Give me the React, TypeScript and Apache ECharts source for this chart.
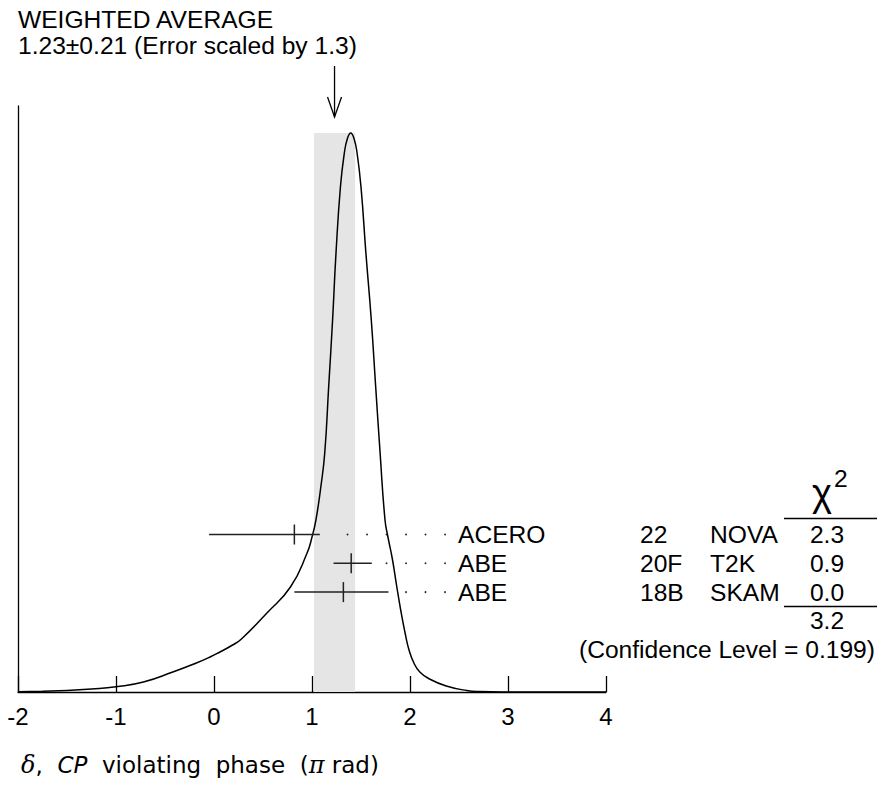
import React, { useEffect, useRef } from "react";
import * as echarts from "echarts";

// ---- data ----
const curveX = [-2.0, -1.75, -1.5, -1.25, -1.0, -0.72, -0.42, -0.18, -0.04, 0.06, 0.19, 0.28, 0.54, 0.78, 0.95, 1.0, 1.04, 1.09, 1.13, 1.17, 1.21, 1.245, 1.29, 1.33, 1.36, 1.395, 1.43, 1.46, 1.5, 1.55, 1.605, 1.65, 1.695, 1.745, 1.775, 1.82, 1.864, 1.905, 1.95, 1.99, 2.04, 2.1, 2.2, 2.37, 2.58, 2.71, 3.0, 3.5, 4.0];
const curveH = [0.3, 0.8, 1.5, 3, 5.3, 10, 20, 29, 35, 40, 47, 53, 79, 105, 139, 155, 172, 205, 239, 305, 372, 439, 505, 539, 553, 559, 553, 539, 505, 439, 372, 305, 239, 172, 155, 133, 106, 82, 59, 42, 29, 20, 13, 6, 1.5, 0.5, 0.1, 0, 0];
const xTickLabels = ["-2", "-1", "0", "1", "2", "3", "4"];

const avgValue = 1.23;
const avgError = 0.21;
const errScale = 1.3;

const authors = ["ACERO", "ABE", "ABE"];
const refs = ["22", "20F", "18B"];
const experiments = ["NOVA", "T2K", "SKAM"];
const centers = [0.82, 1.4, 1.32];
const lows = [-0.05, 1.22, 0.82];
const highs = [1.08, 1.61, 1.78];
const chi2 = ["2.3", "0.9", "0.0"];
const chi2Total = "3.2";
const confidenceLevel = "0.199";

// ---- layout / style ----
const FONT = '"Liberation Sans", Arial, Helvetica, sans-serif';
const FS = 24.6;
const ROW_Y0 = 534.5;
const ROW_GAP = 28.8;
const LABEL_X = 458;
const REF_X = 640;
const EXP_X = 710;
const CHI_X = 827;
const INK = "#000";
const BAR = "#222";

export default function App() {
  const ref = useRef<HTMLDivElement>(null);

  useEffect(() => {
    if (!ref.current) return;
    const chart = echarts.init(ref.current, null, { renderer: "svg" });
    const peak = Math.max(...curveH);

    const rowY = (i: number) => ROW_Y0 + i * ROW_GAP;
    const txt = (text: string, x: number, y: number, align = "left") => ({
      type: "text",
      style: {
        text,
        x,
        y,
        fill: INK,
        font: `${FS}px ${FONT}`,
        align,
        verticalAlign: "middle",
      },
    });

    const option: any = {
      animation: false,
      grid: { left: 18, right: 271, top: 106, bottom: 97, containLabel: false },
      xAxis: {
        type: "value",
        min: -2,
        max: 4,
        interval: 1,
        axisLine: { show: true, onZero: false, lineStyle: { color: INK, width: 1.3 } },
        axisTick: { show: true, inside: true, length: 16, lineStyle: { color: INK, width: 1.3 } },
        axisLabel: {
          color: INK,
          fontSize: 24,
          fontFamily: FONT,
          margin: 12,
          formatter: (v: number) => xTickLabels[Math.round(v + 2)] ?? "",
        },
        splitLine: { show: false },
      },
      yAxis: {
        type: "value",
        min: 0,
        max: 586,
        axisLine: { show: true, onZero: false, lineStyle: { color: INK, width: 1.3 } },
        axisTick: { show: false },
        axisLabel: { show: false },
        splitLine: { show: false },
      },
      series: [
        {
          type: "custom",
          name: "band",
          z: 1,
          silent: true,
          data: [[avgValue, avgError, peak]],
          renderItem: (params: any, api: any) => {
            const c = api.value(0);
            const e = api.value(1);
            const p0 = api.coord([c - e, 0]);
            const p1 = api.coord([c + e, api.value(2)]);
            return {
              type: "rect",
              shape: { x: p0[0], y: p1[1], width: p1[0] - p0[0], height: p0[1] - p1[1] },
              style: { fill: "#e5e5e5" },
            };
          },
        },
        {
          type: "line",
          name: "ideogram",
          z: 3,
          data: curveX.map((x, i) => [x, curveH[i]]),
          showSymbol: false,
          smooth: 0.5,
          lineStyle: { color: INK, width: 1.5 },
          silent: true,
        },
        {
          type: "custom",
          name: "arrow",
          z: 4,
          silent: true,
          data: [[avgValue, peak]],
          renderItem: (params: any, api: any) => {
            const p = api.coord([api.value(0), api.value(1)]);
            const tip = p[1] - 16;
            return {
              type: "group",
              children: [
                { type: "line", shape: { x1: p[0], y1: tip - 51, x2: p[0], y2: tip }, style: { stroke: INK, lineWidth: 1.3 } },
                {
                  type: "polyline",
                  shape: { points: [[p[0] - 7, tip - 20], [p[0], tip], [p[0] + 7, tip - 20]] },
                  style: { stroke: INK, lineWidth: 1.3, fill: "none" },
                },
              ],
            };
          },
        },
        {
          type: "custom",
          name: "measurements",
          z: 5,
          silent: true,
          data: centers.map((c, i) => [c, lows[i], highs[i]]),
          renderItem: (params: any, api: any) => {
            const i = params.dataIndex;
            const y = rowY(i);
            const c = api.coord([api.value(0), 0])[0];
            const lo = api.coord([api.value(1), 0])[0];
            const hi = api.coord([api.value(2), 0])[0];
            const children: any[] = [
              { type: "line", shape: { x1: lo, y1: y, x2: hi, y2: y }, style: { stroke: BAR, lineWidth: 1.5 } },
              { type: "line", shape: { x1: c, y1: y - 10, x2: c, y2: y + 10 }, style: { stroke: BAR, lineWidth: 1.5 } },
            ];
            for (let x = LABEL_X - 13; x > hi + 12; x -= 19.5) {
              children.push({ type: "circle", shape: { cx: x, cy: y, r: 0.9 }, style: { fill: BAR } });
            }
            children.push(txt(authors[i], LABEL_X, y));
            children.push(txt(refs[i], REF_X, y));
            children.push(txt(experiments[i], EXP_X, y));
            children.push(txt(chi2[i], CHI_X, y, "center"));
            return { type: "group", children };
          },
        },
      ],
      graphic: [
        { type: "text", x: 18, y: 19, style: { text: "WEIGHTED AVERAGE", fill: INK, font: `${FS}px ${FONT}`, verticalAlign: "middle" } },
        {
          type: "text",
          x: 18,
          y: 45,
          style: {
            text: `${avgValue.toFixed(2)}\u00b1${avgError.toFixed(2)} (Error scaled by ${errScale})`,
            fill: INK,
            font: `${FS}px ${FONT}`,
            verticalAlign: "middle",
          },
        },
        { type: "text", left: 812, top: 474, style: { text: "\u03c7", fill: INK, font: `38px ${FONT}` } },
        { type: "text", left: 834, top: 466, style: { text: "2", fill: INK, font: `${FS}px ${FONT}` } },
        { type: "line", shape: { x1: 784, y1: 518.5, x2: 877, y2: 518.5 }, style: { stroke: INK, lineWidth: 1.3 } },
        { type: "line", shape: { x1: 784, y1: 606.5, x2: 877, y2: 606.5 }, style: { stroke: INK, lineWidth: 1.3 } },
        {
          type: "text",
          x: CHI_X,
          y: ROW_Y0 + 3 * ROW_GAP,
          style: { text: chi2Total, fill: INK, font: `${FS}px ${FONT}`, align: "center", verticalAlign: "middle" },
        },
        {
          type: "text",
          x: 875,
          y: ROW_Y0 + 4 * ROW_GAP,
          style: { text: `(Confidence Level = ${confidenceLevel})`, fill: INK, font: `${FS}px ${FONT}`, align: "right", verticalAlign: "middle" },
        },
        {
          type: "text",
          left: 21,
          top: 753,
          style: {
            text: "{m|\u03b4}{n|,  }{i|CP}{n|  violating  phase  (}{m|\u03c0}{n| rad)}",
            rich: {
              m: { fontFamily: '"DejaVu Serif", serif', fontStyle: "italic", fontSize: 24, fill: INK, color: INK },
              n: { fontFamily: '"DejaVu Sans", sans-serif', fontSize: 23, fill: INK, color: INK },
              i: { fontFamily: '"DejaVu Sans", sans-serif', fontStyle: "italic", fontSize: 23, fill: INK, color: INK },
            },
          },
        },
      ],
    };

    chart.setOption(option);
    return () => chart.dispose();
  }, []);

  return <div ref={ref} style={{ position: "absolute", left: 0, top: 0, width: 877, height: 789 }} />;
}
